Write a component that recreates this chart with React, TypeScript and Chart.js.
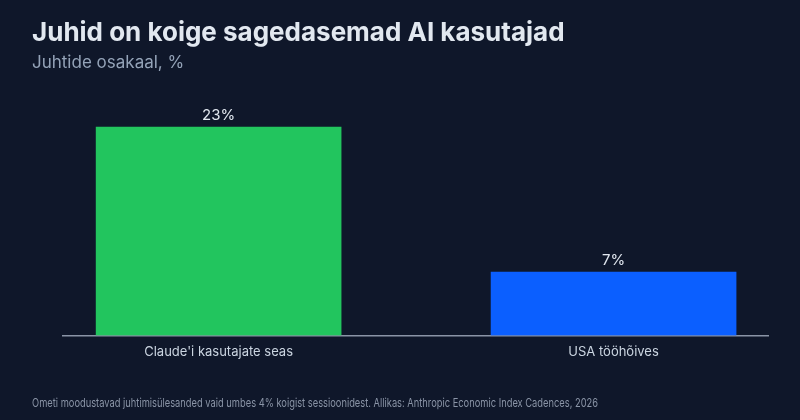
import React, { useEffect, useRef } from "react";
import { Chart, registerables } from "chart.js";

Chart.register(...registerables);

const categories = ["Claude'i kasutajate seas", "USA tööhõives"];
const categoryPositions = [0, 1];
const values = [23, 7];
const valueLabels = ["23%", "7%"];
const barColors = ["#22c55e", "#0b5fff"];

const titleText = "Juhid on koige sagedasemad AI kasutajad";
const subtitleText = "Juhtide osakaal, %";
const footerText =
  "Ometi moodustavad juhtimisülesanded vaid umbes 4% koigist sessioonidest. Allikas: Anthropic Economic Index Cadences, 2026";

const BG = "#0f172a";
const FONT = "Inter, 'Noto Sans', sans-serif";

const textPlugin = {
  id: "texts",
  afterDraw(chart: any) {
    const ctx = chart.ctx;
    ctx.save();
    ctx.textAlign = "left";
    ctx.textBaseline = "alphabetic";
    ctx.fillStyle = "#e2e8f0";
    ctx.font = `bold 26px ${FONT}`;
    ctx.fillText(titleText, 32, 41);
    ctx.fillStyle = "#94a3b8";
    ctx.font = `17px ${FONT}`;
    ctx.fillText(subtitleText, 32, 68);
    ctx.fillStyle = "#8a94a6";
    ctx.font = `12px ${FONT}`;
    const w = ctx.measureText(footerText).width;
    const sx = 566 / w;
    ctx.save();
    ctx.translate(32, 407);
    ctx.scale(sx, 1);
    ctx.fillText(footerText, 0, 0);
    ctx.restore();
    const meta = chart.getDatasetMeta(0);
    ctx.fillStyle = "#e2e8f0";
    ctx.font = `15px ${FONT}`;
    ctx.textAlign = "center";
    ctx.textBaseline = "middle";
    meta.data.forEach((bar: any, i: number) => {
      ctx.fillText(valueLabels[i], bar.x, bar.y - 12);
    });
    ctx.restore();
  },
};

const bgPlugin = {
  id: "bg",
  beforeDraw(chart: any) {
    const ctx = chart.ctx;
    ctx.save();
    ctx.fillStyle = BG;
    ctx.fillRect(0, 0, chart.width, chart.height);
    ctx.restore();
  },
};

export default function App() {
  const ref = useRef<HTMLCanvasElement | null>(null);
  useEffect(() => {
    if (!ref.current) return;
    const chart = new Chart(ref.current, {
      type: "bar",
      data: {
        datasets: [
          {
            data: categoryPositions.map((x, i) => ({ x, y: values[i] })),
            backgroundColor: barColors,
            borderWidth: 0,
            barThickness: 245,
          } as any,
        ],
      },
      options: {
        animation: false,
        responsive: true,
        maintainAspectRatio: false,
        layout: { padding: { left: 63, right: 32, top: 109, bottom: 51 } },
        plugins: {
          legend: { display: false },
          tooltip: { enabled: false },
        },
        scales: {
          x: {
            type: "linear",
            offset: false,
            min: -0.394,
            max: 1.391,
            z: 1,
            grid: { display: false, drawTicks: false, offset: false },
            border: { display: true, color: "#8a94a6", width: 1.5 },
            afterBuildTicks: (scale: any) => {
              scale.ticks = categoryPositions.map((v) => ({ value: v }));
            },
            ticks: {
              padding: 9,
              color: "#cbd5e1",
              font: { family: FONT, size: 13 },
              callback: (v: any) => categories[Number(v)] ?? "",
            },
          },
          y: {
            display: false,
            min: 0,
            max: 25,
          },
        },
      },
      plugins: [bgPlugin, textPlugin],
    });
    return () => chart.destroy();
  }, []);
  return (
    <div style={{ position: "absolute", left: 0, top: 0, width: 800, height: 420, background: BG }}>
      <canvas ref={ref} />
    </div>
  );
}
